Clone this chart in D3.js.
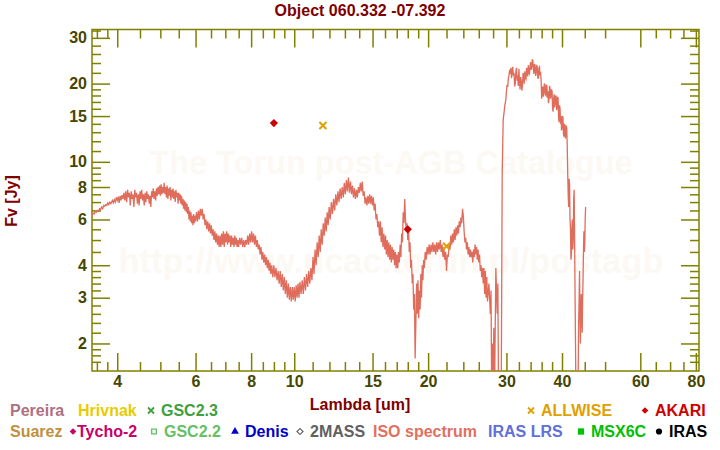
<!DOCTYPE html>
<html><head><meta charset="utf-8">
<script src="https://cdn.jsdelivr.net/npm/d3@7"></script>
<style>body{margin:0;background:#fff}svg{display:block}text{font-family:"Liberation Sans",Arial,sans-serif;font-weight:bold}</style>
</head><body><svg id="c" width="720" height="450"></svg>
<script>
const title = "Object 060.332 -07.392";
const xLabel = "Lambda [um]";
const yLabel = "Fv [Jy]";
const xDomain = [3.51, 81.3];
const yDomain = [1.567, 32.3];
const xMajorTicks = [4,6,8,10,15,20,30,40,60,80];
const xMinorTicks = [3.6,3.8,4.5,5,5.5,6.5,7,7.5,8.5,9,9.5,11,12,13,14,16,17,18,19,22,24,26,28,32,34,36,38,45,50,65,70,75];
const yMajorTicks = [2,3,4,6,8,10,15,20,30];
const yMinorTicks = [1.7,1.8,1.9,2.2,2.4,2.6,2.8,3.2,3.4,3.6,3.8,4.5,5,5.5,6.5,7,7.5,8.5,9,9.5,11,12,13,14,16,17,18,19,22,24,26,28,32];
const akari = [[9.0,14.1],[18.0,5.5]];
const allwise = [[11.6,13.8],[22.0,4.73]];
const isoSpectrum = [
[3.51,6.2],[3.53,6.35],[3.55,6.3],[3.57,6.45],[3.59,6.4],[3.61,6.5],[3.63,6.45],[3.65,6.6],[3.67,6.55],[3.69,6.7],[3.71,6.6],[3.73,6.8],[3.75,6.75],[3.77,6.85],[3.79,6.8],[3.81,6.95],[3.83,6.85],[3.85,7.0],[3.87,6.9],[3.9,7.1],[3.92,6.95],
[3.94,7.15],[3.96,7.0],[3.98,7.3],[4.0,7.1],[4.02,7.35],[4.04,6.95],[4.06,7.4],[4.08,7.1],[4.1,7.45],[4.12,7.2],[4.14,7.6],[4.16,7.1],[4.18,7.7],[4.2,7.0],[4.22,7.8],[4.24,7.3],[4.26,7.6],[4.28,6.8],[4.3,7.7],[4.32,7.2],[4.34,7.5],[4.36,6.7],[4.38,7.8],[4.4,7.3],[4.42,7.6],[4.44,6.9],[4.46,7.5],[4.48,6.8],[4.5,7.7],[4.52,7.2],[4.54,7.8],[4.56,7.1],[4.58,7.5],[4.6,6.8],[4.62,7.6],[4.64,7.0],[4.66,7.7],[4.68,7.2],[4.7,7.5],[4.72,6.9],[4.74,7.4],[4.76,6.7],[4.78,7.7],[4.8,7.3],[4.82,7.9],[4.84,7.2],[4.86,7.7],[4.88,7.1],[4.9,7.9],[4.92,7.4],[4.94,8.0],[4.96,7.5],[4.98,8.1],
[5.0,7.4],[5.02,8.2],[5.04,7.5],[5.06,8.0],[5.08,7.6],[5.1,8.3],[5.12,7.5],[5.14,8.0],[5.16,7.3],[5.18,8.1],[5.2,7.2],[5.22,7.9],[5.24,7.4],[5.26,8.0],[5.28,7.1],[5.3,7.8],[5.32,7.3],[5.34,7.9],[5.36,7.2],[5.38,7.7],[5.4,7.0],[5.42,7.8],[5.44,7.3],[5.46,7.6],[5.48,6.9],[5.5,7.6],[5.52,7.1],[5.54,7.5],[5.56,6.9],[5.58,7.4],[5.6,6.8],[5.62,7.2],[5.64,6.6],[5.66,7.1],[5.68,6.5],[5.7,7.0],
[5.72,6.4],[5.74,6.9],[5.76,6.3],[5.78,6.7],[5.8,6.0],[5.82,6.5],[5.84,5.9],[5.86,6.4],[5.88,5.8],[5.9,6.2],[5.92,5.7],[5.94,6.3],[5.96,5.8],[5.98,6.2],[6.0,5.9],[6.03,6.4],[6.06,5.9],[6.09,6.5],[6.12,6.0],[6.15,6.6],[6.18,6.2],[6.21,6.6],[6.24,6.0],[6.27,6.3],[6.3,5.7],[6.33,6.0],[6.36,5.5],[6.39,5.9],[6.42,5.4],[6.45,5.8],[6.48,5.3],[6.51,5.7],[6.54,5.2],[6.57,5.5],[6.6,5.0],[6.63,5.4],[6.66,4.9],[6.69,5.3],[6.72,4.8],[6.75,5.2],[6.78,4.7],
[6.81,5.2],[6.84,4.7],[6.87,5.3],[6.9,4.8],[6.93,5.4],[6.96,4.7],[6.99,5.3],[7.02,4.9],[7.05,5.4],[7.08,4.8],[7.11,5.3],[7.14,4.9],[7.17,5.2],[7.2,4.7],[7.23,5.2],[7.26,4.8],[7.29,5.1],[7.32,4.7],[7.35,5.2],[7.38,4.8],[7.41,5.1],[7.44,4.7],[7.47,5.0],[7.5,4.7],[7.54,5.1],[7.58,4.8],[7.62,5.1],[7.66,4.7],[7.7,5.0],[7.74,4.7],[7.78,5.0],[7.82,4.8],[7.86,5.2],[7.9,4.8],[7.94,5.3],[7.98,4.9],[8.02,5.4],[8.06,4.9],[8.1,5.3],[8.14,4.8],[8.18,5.2],[8.22,4.7],[8.26,5.0],[8.3,4.6],
[8.34,4.8],[8.38,4.4],[8.42,4.7],[8.46,4.2],[8.5,4.5],[8.54,4.1],[8.58,4.4],[8.62,4.0],[8.66,4.3],[8.7,3.9],[8.74,4.2],[8.78,3.8],[8.82,4.1],[8.86,3.7],[8.9,4.0],[8.95,3.6],[9.0,4.0],[9.05,3.6],[9.1,3.9],[9.15,3.5],[9.2,3.8],[9.25,3.4],[9.3,3.8],[9.35,3.3],[9.4,3.7],[9.45,3.2],[9.5,3.6],[9.55,3.1],[9.6,3.5],[9.65,3.0],[9.7,3.4],[9.75,2.95],[9.8,3.3],[9.85,2.9],[9.9,3.3],[9.95,2.95],[10.0,3.3],[10.05,2.9],[10.1,3.35],[10.15,3.0],[10.2,3.4],[10.25,3.0],
[10.3,3.45],[10.36,3.1],[10.42,3.5],[10.48,3.1],[10.54,3.6],[10.6,3.2],[10.66,3.7],[10.72,3.3],[10.78,3.8],[10.84,3.4],[10.9,3.9],[10.96,3.5],[11.02,4.3],[11.08,3.7],[11.14,4.6],[11.2,4.0],[11.26,4.9],[11.32,4.3],[11.38,5.2],[11.44,4.5],[11.5,5.5],[11.56,4.8],[11.62,5.8],[11.68,5.2],[11.74,6.1],[11.8,5.4],[11.86,6.4],[11.92,5.7],[11.98,6.7],[12.05,6.0],[12.12,7.0],[12.19,6.3],[12.26,7.2],[12.33,6.5],[12.4,7.5],[12.47,6.8],[12.54,7.7],[12.61,7.0],[12.68,7.9],[12.75,7.2],[12.82,8.0],[12.89,7.3],[12.96,8.3],[13.03,7.5],[13.1,8.5],[13.17,7.7],[13.24,8.7],
[13.31,7.6],[13.38,8.4],[13.45,7.5],[13.52,8.1],[13.59,7.3],[13.66,7.9],[13.73,7.2],[13.8,7.8],[13.87,7.3],[13.94,8.0],[14.01,7.6],[14.08,8.3],[14.15,7.7],[14.22,8.4],[14.29,7.4],[14.36,7.7],[14.43,6.9],[14.5,7.3],[14.57,6.8],[14.64,7.4],[14.71,6.9],[14.78,7.5],[14.85,6.9],[14.92,7.4],[14.99,6.8],[15.06,7.3],[15.13,6.5],[15.2,6.9],[15.27,6.0],[15.34,6.3],[15.41,5.6],[15.48,5.9],
[15.55,5.2],[15.62,5.9],[15.69,4.9],[15.76,5.6],[15.83,4.7],[15.9,5.3],[15.97,4.6],[16.04,5.2],[16.11,4.4],[16.18,5.0],[16.25,4.3],[16.32,4.9],[16.39,4.2],[16.46,4.8],[16.53,4.1],[16.6,4.7],[16.67,4.2],[16.74,4.6],[16.81,4.0],[16.88,4.5],[16.95,3.9],[17.02,4.4],[17.09,3.9],[17.16,4.5],[17.23,4.1],[17.3,4.8],[17.37,4.3],[17.44,5.3],[17.51,4.9],[17.58,6.4],[17.65,5.8],[17.72,7.2],[17.79,6.0],[17.86,5.4],[17.93,5.8],[18.0,5.0],[18.07,5.6],[18.14,4.5],[18.21,4.9],[18.28,3.9],[18.35,4.2],[18.42,3.4],[18.49,3.7],[18.56,2.7],[18.63,3.1],[18.7,1.75],[18.77,2.4],
[18.84,3.4],[18.91,2.6],[18.98,3.5],[19.05,2.5],[19.12,3.2],[19.19,2.7],[19.26,3.7],[19.33,3.0],[19.4,4.0],[19.47,3.5],[19.54,4.2],[19.61,3.9],[19.7,4.5],[19.8,4.2],[19.9,4.7],[20.0,4.4],[20.1,4.8],[20.2,4.4],[20.3,4.8],[20.4,4.5],[20.5,4.9],[20.6,4.5],[20.7,4.8],[20.8,4.4],[20.9,4.9],[21.0,4.5],[21.1,4.9],[21.2,4.6],[21.3,5.0],[21.4,4.5],[21.5,4.8],[21.6,4.3],[21.7,4.7],[21.8,4.2],[21.9,4.5],[22.0,3.8],[22.1,4.4],[22.2,4.3],[22.3,4.8],[22.4,4.6],
[22.5,5.2],[22.6,4.8],[22.7,5.3],[22.8,4.9],[22.9,5.5],[23.0,5.0],[23.1,5.6],[23.2,5.2],[23.3,5.7],[23.4,5.3],[23.5,5.9],[23.6,5.6],[23.7,6.1],[23.8,5.8],[23.9,6.6],[24.0,6.2],[24.1,5.4],[24.2,4.9],[24.3,5.1],[24.4,4.6],[24.5,4.9],[24.6,4.4],[24.7,4.7],[24.8,4.3],[24.9,4.6],[25.0,4.3],[25.1,4.5],[25.2,4.1],[25.3,4.6],[25.4,4.3],[25.5,4.8],[25.6,4.4],[25.7,4.7],[25.8,4.2],[25.9,4.6],[26.0,4.1],[26.1,4.4],[26.2,3.8],[26.3,4.0],[26.4,3.6],[26.5,3.9],[26.6,3.4],
[26.7,3.9],[26.8,3.1],[26.9,3.8],[27.0,3.0],[27.1,3.6],[27.2,2.9],[27.4,3.4],[27.6,2.6],[27.7,3.2],[27.8,1.2],[27.9,2.0],[28.0,1.3],[28.1,2.3],[28.2,1.2],[28.4,3.9],[28.6,2.6],[28.7,3.4],[28.8,1.2],[29.0,1.3],[29.2,1.2],
[29.35,9.0],[29.5,14.5],[29.65,15.6],[29.75,16.5],[29.9,17.3],[30.0,18.6],[30.1,19.8],[30.2,19.4],[30.3,21.0],[30.4,21.5],[30.5,22.6],[30.6,21.8],[30.7,23.0],[30.8,21.0],[30.9,22.4],[31.0,23.2],[31.1,21.4],[31.2,22.0],[31.3,19.5],[31.4,20.0],[31.5,22.2],[31.6,23.0],[31.7,20.5],[31.8,21.5],[31.9,19.6],[32.0,22.8],[32.1,20.3],[32.2,19.0],[32.3,21.2],[32.4,20.5],[32.5,18.8],[32.6,19.7],[32.7,22.0],[32.8,21.5],[32.9,20.0],[33.0,22.3],[33.1,21.0],[33.2,20.8],[33.3,23.0],[33.4,22.5],[33.5,21.3],[33.6,23.5],[33.7,22.0],[33.8,21.8],[33.9,23.4],[34.0,24.2],[34.1,22.6],[34.2,23.0],[34.3,24.8],[34.4,24.5],[34.5,22.5],[34.6,21.8],[34.7,23.8],[34.8,23.5],[34.9,21.4],[35.0,22.0],[35.1,23.6],[35.2,23.0],[35.3,21.0],[35.4,21.0],[35.5,23.0],[35.6,23.2],[35.7,21.5],[35.8,22.2],[35.9,20.5],[36.0,17.5],[36.1,19.0],[36.2,19.5],[36.3,17.8],[36.4,18.3],[36.5,20.0],[36.6,19.8],[36.7,18.1],[36.8,18.0],[36.9,19.8],[37.0,19.5],[37.1,17.6],[37.2,18.7],[37.3,16.8],[37.4,17.4],[37.5,19.6],[37.6,19.2],[37.7,17.5],[37.8,18.0],[37.9,19.0],[38.0,18.6],[38.1,16.0],[38.2,15.6],[38.3,17.4],[38.4,18.2],[38.5,16.2],[38.6,16.8],[38.7,18.0],[38.8,17.8],[38.9,15.8],[39.0,16.2],[39.1,17.8],[39.2,17.5],[39.3,14.8],[39.4,14.2],[39.5,16.5],[39.6,16.0],[39.7,14.0],[39.8,15.0],[39.9,13.2],[40.0,13.5],[40.1,15.0],[40.2,14.8],[40.3,12.8],[40.4,12.5],[40.5,14.0],[40.6,13.8],[40.7,12.3],[40.8,12.6],[40.9,13.8],[41.0,13.4],[41.1,11.5],[41.2,9.0],[41.3,7.5],[41.4,6.7],
[41.5,8.6],[41.6,8.2],[41.7,6.0],[41.8,5.5],[41.9,4.2],[42.0,4.4],[42.1,5.6],[42.2,6.0],[42.3,4.6],[42.4,5.0],[42.5,7.2],[42.6,7.8],[42.7,5.0],[42.8,3.0],[42.9,2.0],[43.0,1.2],[43.2,1.3],[43.4,1.2],[43.5,1.6],[43.6,2.4],[43.7,2.9],[43.8,3.8],[43.9,2.6],[44.0,2.0],[44.1,2.7],[44.2,3.1],[44.3,2.5],[44.4,2.2],[44.5,2.9],[44.6,3.5],[44.7,4.5],[44.8,5.4],[44.9,4.5],[45.0,4.8],[45.1,6.0],[45.2,6.7]
];
const legendRow1 = [
 {label:"Pereira", color:"#b07080", sym:null},
 {label:"Hrivnak", color:"#e6cc00", sym:null},
 {label:"GSC2.3", color:"#40a040", sym:"x"},
 {label:"ALLWISE", color:"#e0a000", sym:"x"},
 {label:"AKARI", color:"#d00000", sym:"diamond"}
];
const legendRow2 = [
 {label:"Suarez", color:"#c09040", sym:null},
 {label:"Tycho-2", color:"#c8006e", sym:"diamond"},
 {label:"GSC2.2", color:"#66c066", sym:"osquare"},
 {label:"Denis", color:"#0000c8", sym:"triangle"},
 {label:"2MASS", color:"#606060", sym:"odiamond"},
 {label:"ISO spectrum", color:"#e07060", sym:null},
 {label:"IRAS LRS", color:"#6070d8", sym:null},
 {label:"MSX6C", color:"#00c000", sym:"square"},
 {label:"IRAS", color:"#000000", sym:"circle"}
];
const legendX1 = [10,78,147,527,641];
const legendX2 = [10,69,150,231,296,373,488,577,655];

const svg = d3.select("#c");
const L=92,R=699,T=29.5,B=371;
const x = d3.scaleLog().domain(xDomain).range([L,R]);
const y = d3.scaleLog().domain(yDomain).range([B,T]);
const axisCol="#808000", labCol="#464600", red="#800000";

svg.append("defs").append("clipPath").attr("id","clip").append("rect").attr("x",L).attr("y",T).attr("width",R-L).attr("height",B-T);

// watermark
svg.append("text").attr("x",391).attr("y",174).attr("text-anchor","middle").attr("font-size",32.5).attr("fill","#fcf9f4").text("The Torun post-AGB Catalogue");
svg.append("text").attr("x",391).attr("y",273).attr("text-anchor","middle").attr("font-size",34.5).attr("fill","#fcf9f4").text("http://www.ncac.torun.pl/postagb");

function styleAxis(g){g.select(".domain").remove();g.selectAll("line").attr("stroke",axisCol).attr("stroke-width",1.5);g.selectAll("text").attr("fill",labCol).attr("font-size",16).style("font-family","Liberation Sans, Arial, sans-serif").style("font-weight","bold");}
const fmt = d=>String(d);
svg.append("g").attr("transform",`translate(0,${B})`).call(d3.axisBottom(x).tickValues(xMajorTicks).tickSize(-18).tickPadding(5).tickFormat(fmt)).call(styleAxis);
svg.append("g").attr("transform",`translate(0,${B})`).call(d3.axisBottom(x).tickValues(xMinorTicks).tickSize(-9).tickFormat("")).call(styleAxis);
svg.append("g").attr("transform",`translate(0,${T})`).call(d3.axisTop(x).tickValues(xMajorTicks).tickSize(-18).tickFormat("")).call(styleAxis);
svg.append("g").attr("transform",`translate(0,${T})`).call(d3.axisTop(x).tickValues(xMinorTicks).tickSize(-9).tickFormat("")).call(styleAxis);
svg.append("g").attr("transform",`translate(${L},0)`).call(d3.axisLeft(y).tickValues(yMajorTicks).tickSize(-18).tickPadding(5).tickFormat(fmt)).call(styleAxis);
svg.append("g").attr("transform",`translate(${L},0)`).call(d3.axisLeft(y).tickValues(yMinorTicks).tickSize(-9).tickFormat("")).call(styleAxis);
svg.append("g").attr("transform",`translate(${R},0)`).call(d3.axisRight(y).tickValues(yMajorTicks).tickSize(-18).tickFormat("")).call(styleAxis);
svg.append("g").attr("transform",`translate(${R},0)`).call(d3.axisRight(y).tickValues(yMinorTicks).tickSize(-9).tickFormat("")).call(styleAxis);
svg.append("rect").attr("x",L).attr("y",T).attr("width",R-L).attr("height",B-T).attr("fill","none").attr("stroke",axisCol).attr("stroke-width",1.5);

// spectrum
const line = d3.line().x(d=>x(d[0])).y(d=>y(d[1]));
svg.append("path").datum(isoSpectrum).attr("clip-path","url(#clip)").attr("d",line).attr("fill","none").attr("stroke","#e06c5c").attr("stroke-width",1.3);

const xPath = s=>`M${-s},${-s}L${s},${s}M${-s},${s}L${s},${-s}`;
svg.append("g").selectAll("path").data(allwise).join("path").attr("transform",d=>`translate(${x(d[0])},${y(d[1])})`).attr("d",xPath(3.5)).attr("stroke","#e0a000").attr("stroke-width",2).attr("fill","none");
svg.append("g").selectAll("path").data(akari).join("path").attr("transform",d=>`translate(${x(d[0])},${y(d[1])}) rotate(45)`).attr("d",d3.symbol(d3.symbolSquare,34)()).attr("fill","#cc0000");

// titles
svg.append("text").attr("x",360).attr("y",16).attr("text-anchor","middle").attr("font-size",16).attr("fill",red).text(title);
svg.append("text").attr("x",360).attr("y",410).attr("text-anchor","middle").attr("font-size",16).attr("fill",red).text(xLabel);
svg.append("text").attr("transform","translate(17,201) rotate(-90)").attr("text-anchor","middle").attr("font-size",16).attr("fill",red).text(yLabel);

// legend
function marker(g,sym,color,cx,cy){
  if(!sym) return 0;
  const m=g.append("path").attr("transform",`translate(${cx},${cy})`);
  if(sym==="x") m.attr("d",xPath(3)).attr("stroke",color).attr("stroke-width",1.8).attr("fill","none");
  else if(sym==="diamond") m.attr("transform",`translate(${cx},${cy}) rotate(45)`).attr("d",d3.symbol(d3.symbolSquare,22)()).attr("fill",color);
  else if(sym==="odiamond") m.attr("transform",`translate(${cx},${cy}) rotate(45)`).attr("d",d3.symbol(d3.symbolSquare,18)()).attr("fill","none").attr("stroke",color).attr("stroke-width",1.2);
  else if(sym==="osquare") m.attr("d",d3.symbol(d3.symbolSquare,22)()).attr("fill","none").attr("stroke",color).attr("stroke-width",1.4);
  else if(sym==="square") m.attr("d",d3.symbol(d3.symbolSquare,40)()).attr("fill",color);
  else if(sym==="triangle") m.attr("d",d3.symbol(d3.symbolTriangle,26)()).attr("fill",color);
  else if(sym==="circle") m.attr("d",d3.symbol(d3.symbolCircle,30)()).attr("fill",color);
  return 10;
}
function row(items,xs,yb){
  const g=svg.append("g");
  items.forEach((it,i)=>{
    let xx=xs[i];
    if(it.sym){ marker(g,it.sym,it.color,xx+4,yb-5.5); xx+= (it.sym==="diamond"&&it.label==="Tycho-2")?8:14; }
    g.append("text").attr("x",xx).attr("y",yb).attr("font-size",16).attr("fill",it.color).text(it.label);
  });
}
row(legendRow1,legendX1,416);
row(legendRow2,legendX2,437);
</script></body></html>
